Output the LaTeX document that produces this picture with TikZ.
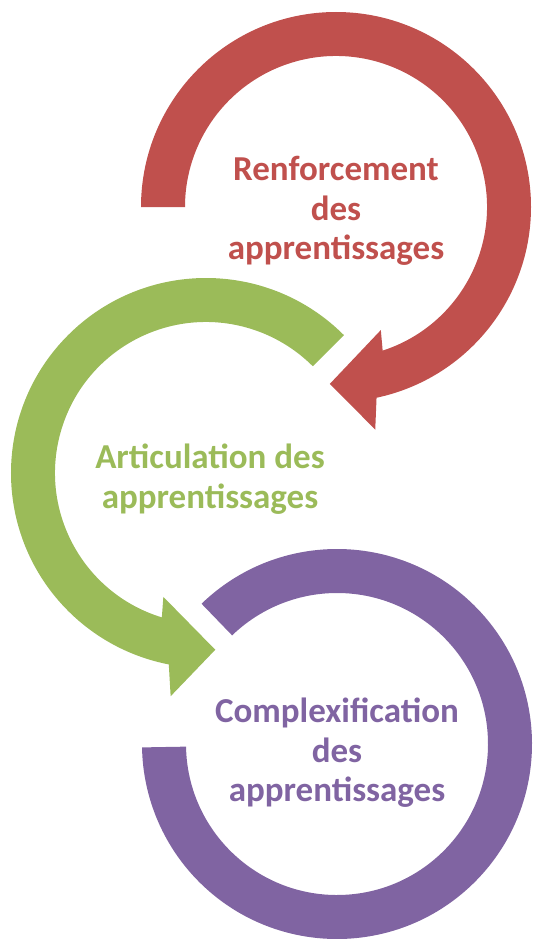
\documentclass[tikz,border=0pt]{standalone}
\usepackage{fontspec}
\setmainfont{Carlito}
\definecolor{ringred}{RGB}{192,80,77}
\definecolor{ringgreen}{RGB}{155,187,89}
\definecolor{ringpurple}{RGB}{128,100,162}

\begin{document}
\begin{tikzpicture}[
        x=1pt, y=1pt,
        ring/.style={draw=none},
        ringtext/.style={font=\bfseries\fontsize{35}{39.5}\selectfont, align=center, inner sep=0pt}
    ]

    \useasboundingbox (0,0) rectangle (534,-939);

    % Centres of the three rings
    \coordinate (red-center) at (336,-207);
    \coordinate (green-center) at (206,-473);
    \coordinate (purple-center) at (337,-744);

    % Red ring with arrow (TOP) - clockwise from the left
    \begin{scope}[shift={(red-center)}]
        \fill[ring, ringred] (180:195pt) arc[start angle=180, end angle=-78, radius=195pt]
            -- (-80:226pt) -- (-92:177pt) -- (-70:131pt)
            -- (-72:151pt) arc[start angle=-72, end angle=180, radius=151pt] -- cycle;
    \end{scope}
    \node[ringtext, text=ringred, yshift=-4pt] (red-label) at (red-center) {Renforcement\\des\\apprentissages};

    % Green ring with arrow (MIDDLE) - counterclockwise from the top right
    \begin{scope}[shift={(green-center)}]
        \fill[ring, ringgreen] (45:195pt) arc[start angle=45, end angle=259, radius=195pt]
            -- (261:226pt) -- (273:177pt) -- (251:131pt)
            -- (253:151pt) arc[start angle=253, end angle=45, radius=151pt] -- cycle;
    \end{scope}
    \node[ringtext, text=ringgreen, xshift=4pt, yshift=-6pt] (green-label) at (green-center) {Articulation des\\apprentissages};

    % Purple ring (BOTTOM) - no arrow head
    \begin{scope}[shift={(purple-center)}]
        \fill[ring, ringpurple] (134:195pt) arc[start angle=134, end angle=-179, radius=195pt]
            -- (-179:151pt) arc[start angle=-179, end angle=134, radius=151pt] -- cycle;
    \end{scope}
    \node[ringtext, text=ringpurple, yshift=-9pt] (purple-label) at (purple-center) {Complexification\\des\\apprentissages};

\end{tikzpicture}
\end{document}
